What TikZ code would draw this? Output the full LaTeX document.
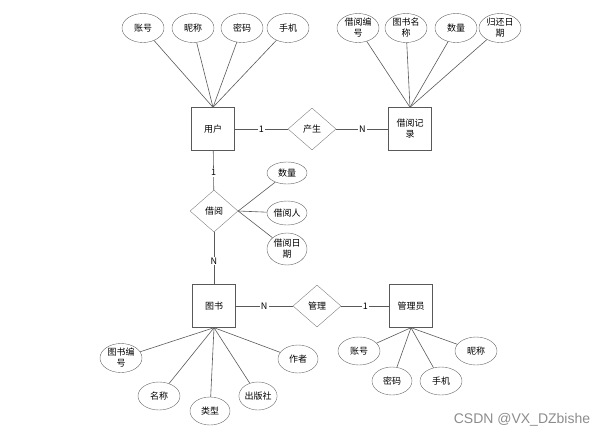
\documentclass[tikz,border=0pt]{standalone}
\usepackage{fontspec}
\newfontfamily\cjk{Noto Sans CJK SC}
\newfontfamily\wmfont{Liberation Sans}
\usetikzlibrary{shapes.geometric, positioning}

\begin{document}
\begin{tikzpicture}[x=1pt,y=-1pt,on grid,font=\cjk\fontsize{9}{11}\selectfont,
  entity/.style={rectangle,draw=black!65,minimum size=43pt,inner sep=1pt,align=center},
  rel/.style={diamond,draw=black!50,minimum width=48pt,minimum height=42pt,inner sep=0pt},
  attr/.style={ellipse,draw=black!60,minimum width=42pt,minimum height=29pt,inner sep=0pt,align=center},
  sattr/.style={attr,minimum width=40pt,minimum height=22pt},
  card/.style={fill=white,inner sep=1pt},
  line/.style={draw=black!65,line width=0.6pt}]
   \useasboundingbox (0,0) rectangle (608,437);
   % entities and relationships
   \node[entity] (user) at (213,129) {用户};
   \node[rel, right=99pt of user] (gen) {产生};
   \node[entity, right=98pt of gen] (rec) {借阅记\\录};
   \node[rel] (borrow) at (214,211) {借阅};
   \node[entity] (book) at (214,306) {图书};
   \node[rel, right=103pt of book] (manage) {管理};
   \node[entity, right=94pt of manage] (admin) {管理员};
   % attributes
   \node[attr] (u_id) at (143,28) {账号};
   \node[attr] (u_nick) at (193,28) {昵称};
   \node[attr] (u_pwd) at (242,28) {密码};
   \node[attr] (u_tel) at (288,28) {手机};
   \node[attr] (r_no) at (358,28) {借阅编\\号};
   \node[attr] (r_name) at (406,28) {图书名\\称};
   \node[attr] (r_num) at (456,28) {数量};
   \node[attr] (r_date) at (500,28) {归还日\\期};
   \node[sattr] (b_num) at (287,173) {数量};
   \node[sattr, minimum height=24pt] (b_who) at (287,213) {借阅人};
   \node[sattr, minimum height=32pt] (b_date) at (287,249) {借阅日\\期};
   \node[attr] (k_no) at (121,358) {图书编\\号};
   \node[attr, minimum height=28pt] (k_name) at (159,396) {名称};
   \node[attr, minimum height=28pt, minimum width=40pt] (k_type) at (210,411) {类型};
   \node[attr, minimum height=28pt, minimum width=38pt] (k_pub) at (258,396) {出版社};
   \node[attr, minimum height=28pt, minimum width=40pt] (k_auth) at (298,359) {作者};
   \node[attr, minimum height=28pt] (a_id) at (359,351) {账号};
   \node[attr, minimum height=28pt, minimum width=40pt] (a_pwd) at (392,381) {密码};
   \node[attr, minimum height=28pt] (a_tel) at (441,381) {手机};
   \node[attr, minimum height=28pt] (a_nick) at (476,351) {昵称};
   \node[font=\wmfont\fontsize{14}{16}\selectfont, text=black!45] (mark) at (522,420) {CSDN @VX\_DZbishe};
   \path[line]
    (user) edge node[card] {1} (gen)
    (gen) edge node[card] {N} (rec)
    (user) edge node[card, pos=.55] {1} (borrow)
    (borrow) edge node[card, pos=.55] {N} (book)
    (book) edge node[card] {N} (manage)
    (manage) edge node[card] {1} (admin)
    (user.north) edge (u_id) edge (u_nick) edge (u_pwd) edge (u_tel)
    (rec.north) edge (r_no) edge (r_name) edge (r_num) edge (r_date)
    (borrow.east) edge (b_num) edge (b_who) edge (b_date)
    (book.south) edge (k_no) edge (k_name) edge (k_type) edge (k_pub) edge (k_auth)
    (admin.south) edge (a_id) edge (a_pwd) edge (a_tel) edge (a_nick);
\end{tikzpicture}
\end{document}
